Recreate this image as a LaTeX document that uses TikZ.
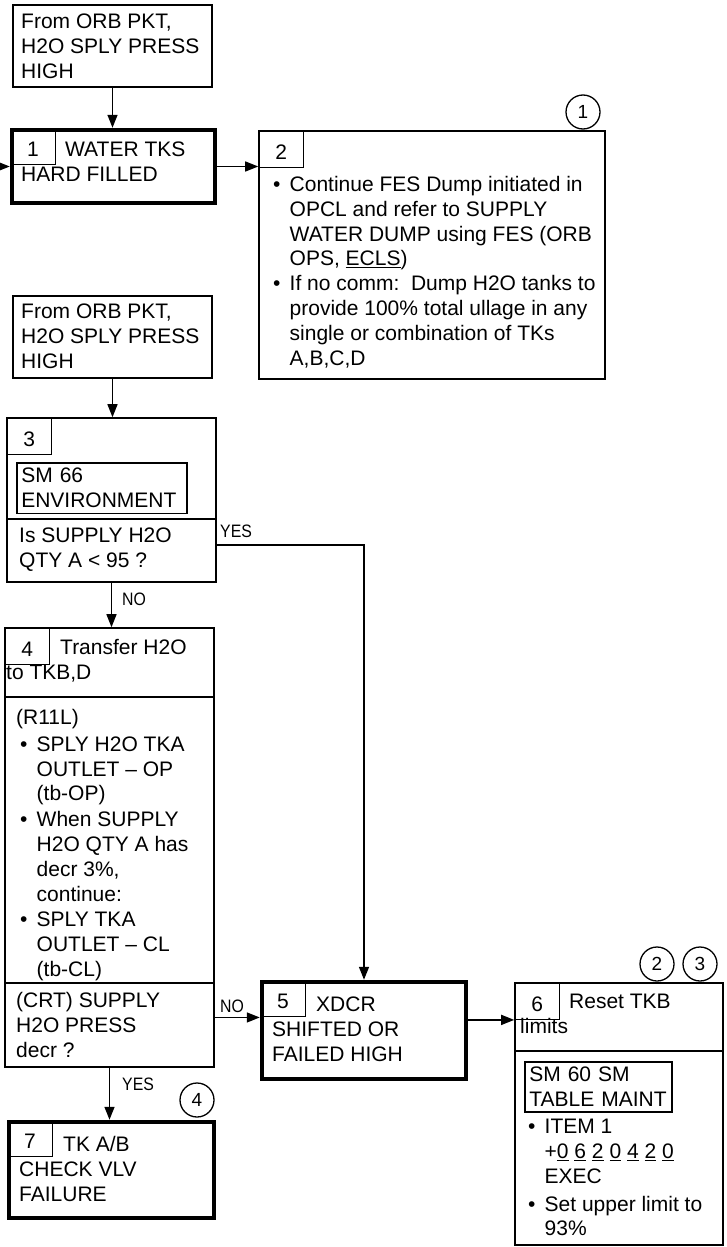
\documentclass[tikz,border=0pt]{standalone}
\usepackage{fontspec}
\setmainfont{Liberation Sans}
\newfontfamily\narrowfont[FakeStretch=0.88]{Liberation Sans}
\usetikzlibrary{arrows.meta}
\newcommand{\bul}{\makebox[16.5pt][l]{\textbullet}}
\newcommand{\ind}{\hspace*{16.5pt}}

\begin{document}
\begin{tikzpicture}[x=1pt,y=-1pt,font=\fontsize{21}{24.8}\selectfont,
  >={Triangle[length=13pt,width=10pt]},
  box/.style={draw,line width=1.6pt,inner sep=0pt},
  tbox/.style={draw,line width=4.5pt,inner sep=0pt},
  num/.style={draw,line width=1.2pt,anchor=north west,minimum width=45pt,minimum height=36.5pt,inner sep=0pt,text height=20pt,text depth=0pt},
  sub/.style={draw,line width=1.6pt,anchor=north west,align=left,inner xsep=4.5pt,inner ysep=5.5pt},
  txt/.style={anchor=north west,yshift=16pt,align=left,inner sep=0pt,execute at begin node=\rule{0pt}{16pt}},
  lbl/.style={anchor=base west,inner sep=0pt,font=\narrowfont\fontsize{18}{20}\selectfont},
  ring/.style={draw,circle,line width=1.3pt,minimum size=34pt,inner sep=0pt,font=\fontsize{19}{20}\selectfont},
  flow/.style={->,line width=1.5pt}]
  \useasboundingbox (0,0) rectangle (727,1247);
  % entry 1
  \node[box,minimum width=199pt,minimum height=82pt] (src1) at (112.5,46){};
  \node[txt] (src1t) at (21,30){From ORB PKT,\\H2O SPLY PRESS\\HIGH};
  % block 1
  \node[tbox,minimum width=203pt,minimum height=73pt] (t1) at (113.5,166.5){};
  \node[num] (n1) at (t1.north west){1};
  \node[txt] (t1t) at (21,158){\hspace*{44pt}WATER TKS\\HARD FILLED};
  % block 2
  \node[box,minimum width=346pt,minimum height=248pt] (t2) at (432,255){};
  \node[num] (n2) at (t2.north west){2};
  \node[txt] (t2t) at (273,192){\bul Continue FES Dump initiated in\\\ind OPCL and refer to SUPPLY\\\ind WATER DUMP using FES (ORB\\\ind OPS, \underline{ECLS})\\\bul If no comm:\ \ Dump H2O tanks to\\\ind provide 100\% total ullage in any\\\ind single or combination of TKs\\\ind A,B,C,D};
  \node[ring] (c1) at (583,112){1};
  % entry 2
  \node[box,minimum width=199pt,minimum height=82pt] (src2) at (112.5,337){};
  \node[txt] (src2t) at (21,320){From ORB PKT,\\H2O SPLY PRESS\\HIGH};
  % block 3
  \node[box,minimum width=209pt,minimum height=164pt] (t3) at (111.5,500){};
  \node[num] (n3) at (t3.north west){3};
  \node[sub,text width=161pt] (sm66) at (16,462){SM 66\\ENVIRONMENT};
  \draw[line width=1.6pt] (t3.west |- 0,519) -- (t3.east |- 0,519);
  \node[txt] (q3) at (19,544){Is SUPPLY H2O\\QTY A < 95 ?};
  % block 4
  \node[box,minimum width=209pt,minimum height=439pt] (t4) at (109.5,847.5){};
  \node[num] (n4) at (t4.north west){4};
  \node[txt] (t4t) at (6,655){\hspace*{54pt}Transfer H2O\\to TKB,D};
  \draw[line width=1.6pt] (t4.west |- 0,697) -- (t4.east |- 0,697);
  \node[txt] (t4s) at (16,725){(R11L)\\[2pt]\hspace*{4pt}\bul SPLY H2O TKA\\\hspace*{4pt}\ind OUTLET – OP\\\hspace*{4pt}\ind (tb-OP)\\[1pt]\hspace*{4pt}\bul When SUPPLY\\\hspace*{4pt}\ind H2O QTY A has\\\hspace*{4pt}\ind decr 3\%,\\\hspace*{4pt}\ind continue:\\[1pt]\hspace*{4pt}\bul SPLY TKA\\\hspace*{4pt}\ind OUTLET – CL\\\hspace*{4pt}\ind (tb-CL)};
  \draw[line width=1.6pt] (t4.west |- 0,983) -- (t4.east |- 0,983);
  \node[txt] (q4) at (16,1008){(CRT) SUPPLY\\H2O PRESS\\decr ?};
  % block 5
  \node[tbox,minimum width=204pt,minimum height=97pt] (t5) at (364,1030.5){};
  \node[num] (n5) at (t5.north west){5};
  \node[txt] (t5t) at (272,1013){\hspace*{44pt}XDCR\\SHIFTED OR\\FAILED HIGH};
  % block 6
  \node[box,minimum width=208pt,minimum height=262pt] (t6) at (619,1114){};
  \node[num] (n6) at (t6.north west){6};
  \node[txt] (t6t) at (520,1010){\hspace*{49pt}Reset TKB\\limits};
  \draw[line width=1.6pt] (t6.west |- 0,1051) -- (t6.east |- 0,1051);
  \node[sub,text width=138pt] (sm60) at (524,1061){SM 60 SM\\TABLE MAINT};
  \node[txt] (t6s) at (528,1135){\bul ITEM 1\\\ind +\underline{0} \underline{6} \underline{2} \underline{0} \underline{4} \underline{2} \underline{0}\\\ind EXEC\\[3pt]\bul Set upper limit to\\\ind 93\%};
  \node[ring] (c2) at (657,964){2};
  \node[ring] (c3) at (700,964){3};
  % block 7
  \node[tbox,minimum width=205pt,minimum height=96pt] (t7) at (111.5,1170){};
  \node[num] (n7) at (t7.north west){7};
  \node[txt] (t7t) at (19,1152){\hspace*{44pt}TK A/B\\CHECK VLV\\FAILURE};
  \node[ring] (c4) at (197,1100){4};
  % connectors
  \coordinate (in1) at (-10,166.5);
  \draw[flow] (in1) -- (t1.west);
  \draw[flow] (src1.south) -- (src1.south |- t1.north);
  \draw[flow] (t1.east) -- (t1.east -| t2.west);
  \draw[flow] (src2.south) -- (src2.south |- t3.north);
  \coordinate (yes3) at (216,545);
  \draw[flow] (yes3) -| (t5.north);
  \node[lbl] (lyes3) at (220,537){YES};
  \draw[flow] (t3.south) -- (t3.south |- t4.north);
  \node[lbl] (lno3) at (122,605){NO};
  \draw[flow] (n5.south west -| t4.east) -- (n5.south west);
  \node[lbl] (lno4) at (220,1012){NO};
  \draw[flow] (n6.south west -| t5.east) -- (n6.south west);
  \draw[flow] (t4.south) -- (t4.south |- t7.north);
  \node[lbl] (lyes4) at (122,1090){YES};
\end{tikzpicture}
\end{document}
